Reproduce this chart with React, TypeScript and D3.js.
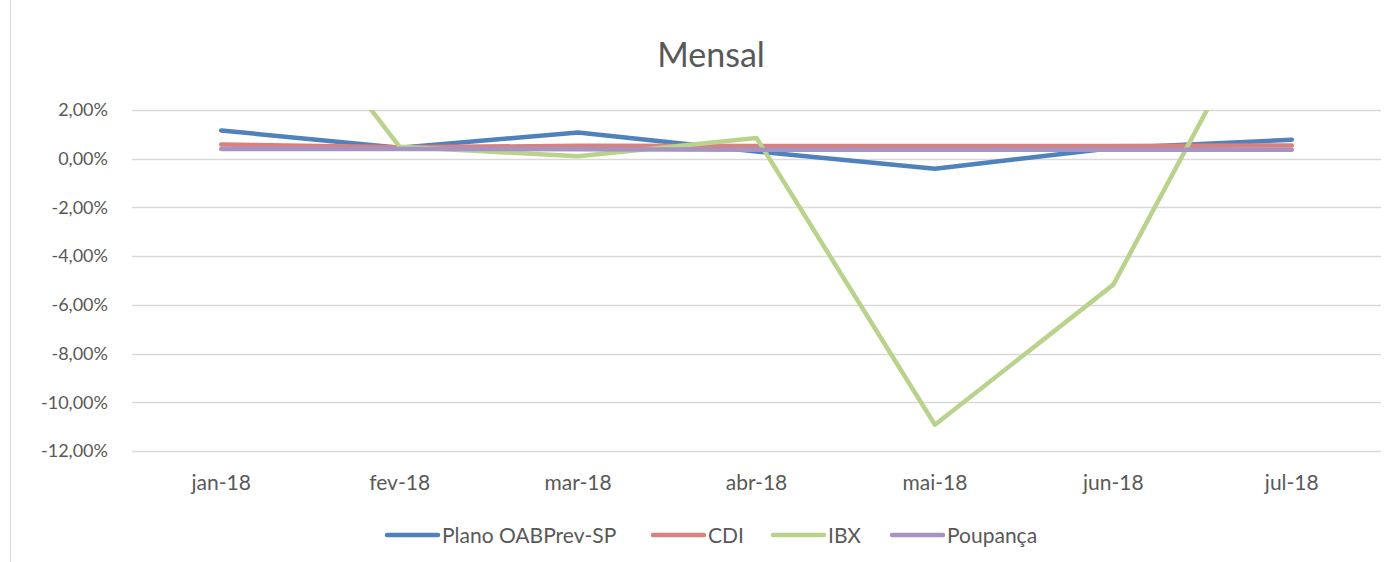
import React, { useEffect, useRef } from "react";
import * as d3 from "d3";

const months = ["jan-18", "fev-18", "mar-18", "abr-18", "mai-18", "jun-18", "jul-18"];
const plano = [1.16, 0.45, 1.08, 0.3, -0.41, 0.44, 0.78];
const cdi = [0.58, 0.47, 0.53, 0.52, 0.52, 0.52, 0.54];
const ibx = [10.0, 0.49, 0.1, 0.85, -10.92, -5.17, 8.5];
const poupanca = [0.4, 0.4, 0.39, 0.37, 0.37, 0.37, 0.37];
const yTicks = [2, 0, -2, -4, -6, -8, -10, -12];

const series = [
  { name: "Plano OABPrev-SP", values: plano, color: "#4f81bd" },
  { name: "CDI", values: cdi, color: "#d8827f" },
  { name: "IBX", values: ibx, color: "#bad38c" },
  { name: "Poupança", values: poupanca, color: "#a692c3" },
];

const W = 1400;
const H = 562;
const margin = { top: 110, right: 19, bottom: 111, left: 132 };
const font = "Lato, 'Open Sans', sans-serif";

const App = () => {
  const ref = useRef(null);

  useEffect(() => {
    const svg = d3.select(ref.current);
    svg.selectAll("*").remove();

    const x = d3
      .scaleBand()
      .domain(months)
      .range([margin.left, W - margin.right]);
    const y = d3
      .scaleLinear()
      .domain([-12, 2])
      .range([H - margin.bottom, margin.top]);

    svg
      .append("rect")
      .attr("x", 10.5)
      .attr("y", -1)
      .attr("width", W)
      .attr("height", H + 2)
      .attr("fill", "white")
      .attr("stroke", "#d9d9d9");

    svg
      .append("text")
      .attr("x", 711)
      .attr("y", 67)
      .attr("text-anchor", "middle")
      .attr("font-family", font)
      .attr("font-size", 34)
      .attr("fill", "#595959")
      .text("Mensal");

    const grid = svg.append("g");
    grid
      .selectAll("line")
      .data(yTicks)
      .enter()
      .append("line")
      .attr("x1", margin.left)
      .attr("x2", W - margin.right)
      .attr("y1", (d) => Math.round(y(d)) + 0.5)
      .attr("y2", (d) => Math.round(y(d)) + 0.5)
      .attr("stroke", "#d9d9d9")
      .attr("stroke-width", 1.5);

    grid
      .selectAll("text")
      .data(yTicks)
      .enter()
      .append("text")
      .attr("x", 108)
      .attr("y", (d) => y(d))
      .attr("dy", "0.35em")
      .attr("text-anchor", "end")
      .attr("font-family", font)
      .attr("font-size", 18)
      .attr("fill", "#595959")
      .text((d) => d.toFixed(2).replace(".", ",") + "%");

    svg
      .append("g")
      .selectAll("text")
      .data(months)
      .enter()
      .append("text")
      .attr("x", (d) => x(d) + x.bandwidth() / 2)
      .attr("y", 490)
      .attr("text-anchor", "middle")
      .attr("font-family", font)
      .attr("font-size", 21)
      .attr("fill", "#595959")
      .text((d) => d);

    svg
      .append("clipPath")
      .attr("id", "plotclip")
      .append("rect")
      .attr("x", 0)
      .attr("y", margin.top)
      .attr("width", W)
      .attr("height", H - margin.top);

    const line = d3
      .line()
      .x((d, i) => x(months[i]) + x.bandwidth() / 2)
      .y((d) => y(d));

    svg
      .append("g")
      .attr("clip-path", "url(#plotclip)")
      .selectAll("path")
      .data(series)
      .enter()
      .append("path")
      .attr("d", (s) => line(s.values))
      .attr("fill", "none")
      .attr("stroke", (s) => s.color)
      .attr("stroke-width", 4.5)
      .attr("stroke-linecap", "round")
      .attr("stroke-linejoin", "round");

    const legendX = [385, 651, 771, 890];
    const lg = svg
      .append("g")
      .selectAll("g")
      .data(series)
      .enter()
      .append("g")
      .attr("transform", (d, i) => `translate(${legendX[i]},535)`);
    lg.append("line")
      .attr("x1", 2)
      .attr("x2", 53)
      .attr("stroke", (s) => s.color)
      .attr("stroke-width", 4.5)
      .attr("stroke-linecap", "round");
    lg.append("text")
      .attr("x", 57)
      .attr("dy", "0.36em")
      .attr("font-family", font)
      .attr("font-size", 21)
      .attr("fill", "#595959")
      .text((s) => s.name);
  }, []);

  return (
    <svg
      ref={ref}
      width={W}
      height={H}
      style={{ position: "absolute", left: 0, top: 0 }}
    />
  );
};

export default App;
